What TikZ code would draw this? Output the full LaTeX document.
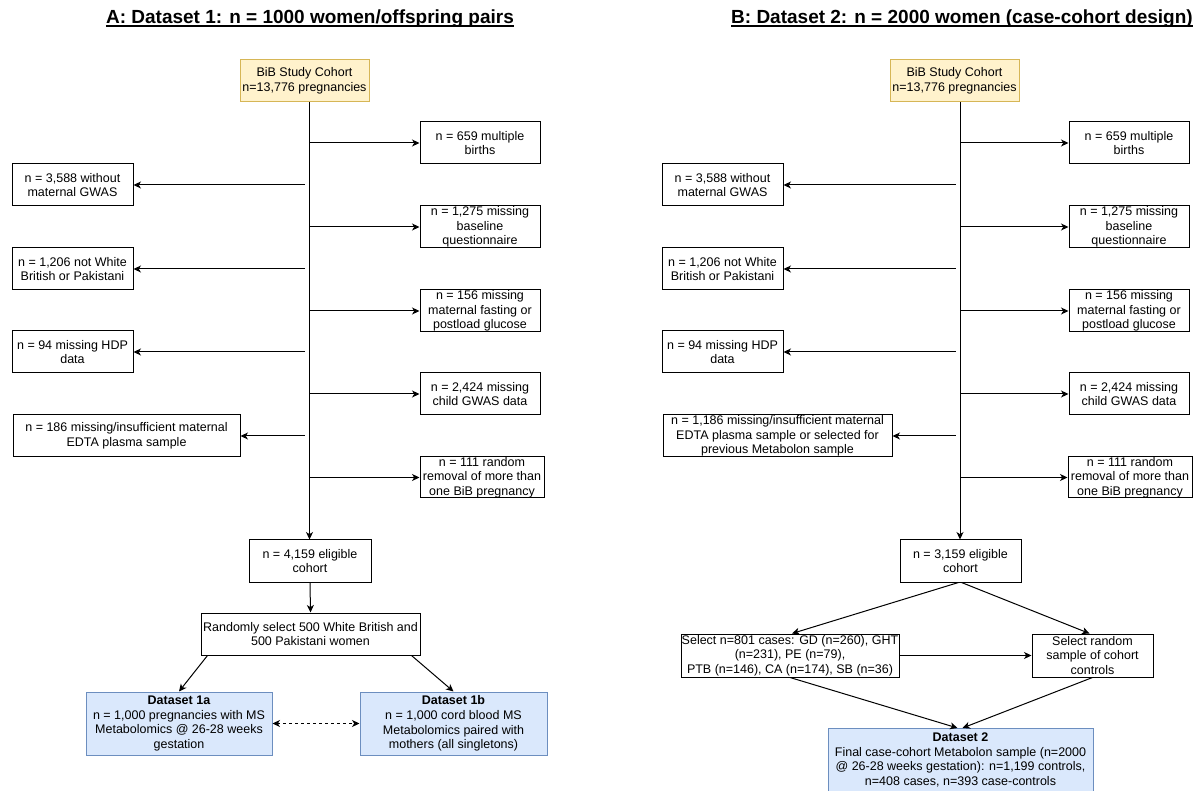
\documentclass[tikz,border=0pt]{standalone}
\usepackage{fontspec}
\setmainfont{Liberation Sans}
\usetikzlibrary{arrows.meta}
\definecolor{yfill}{HTML}{FFF2CC}
\definecolor{ydraw}{HTML}{D6B656}
\definecolor{bfill}{HTML}{DAE8FC}
\definecolor{bdraw}{HTML}{6C8EBF}
\tikzset{
  fbox/.style={draw=black, fill=white, line width=1pt, align=center, inner sep=0pt,
    font=\fontsize{12.5}{14.6}\selectfont},
  ybox/.style={fbox, draw=ydraw, fill=yfill},
  bbox/.style={fbox, draw=bdraw, fill=bfill},
  arr/.style={line width=1pt, -{Stealth[length=7.5pt,width=7pt,inset=2.2pt]}},
  darr/.style={line width=1pt, dash pattern=on 3pt off 3pt,
    {Stealth[length=7.5pt,width=7pt,inset=2.2pt]}-{Stealth[length=7.5pt,width=7pt,inset=2.2pt]}},
  ttl/.style={inner sep=0pt, anchor=base, font=\fontsize{19}{22}\selectfont\bfseries},
}
\begin{document}
\begin{tikzpicture}[x=1pt,y=-1pt]
\useasboundingbox (0,0) rectangle (1195,791);
\clip (0,0) rectangle (1195,791);
% ---------- titles ----------
\node[ttl] (tA) at (310,24) {A: Dataset 1: n = 1000 women/offspring pairs};
\draw[line width=1.4pt] ([yshift=-2.2pt]tA.base west) -- ([yshift=-2.2pt]tA.base east);
\node[ttl] (tB) at (962,24) {B: Dataset 2: n = 2000 women (case-cohort design)};
\draw[line width=1.4pt] ([yshift=-2.2pt]tB.base west) -- ([yshift=-2.2pt]tB.base east);

% ---------- panel A ----------
\coordinate (lA) at (309.5,0);
\node[ybox, minimum width=129, minimum height=42] (bibA) at (304.5,81) {BiB Study Cohort\\n=13,776 pregnancies};
\node[fbox, minimum width=120, minimum height=42] (A1) at (480,143) {n = 659 multiple\\births};
\node[fbox, minimum width=121, minimum height=42] (A2) at (72.5,185) {n = 3,588 without\\maternal GWAS};
\node[fbox, minimum width=120, minimum height=42] (A3) at (480,227) {n = 1,275 missing\\baseline\\questionnaire};
\node[fbox, minimum width=121, minimum height=42] (A4) at (72.5,269) {n = 1,206 not White\\British or Pakistani};
\node[fbox, minimum width=120, minimum height=42] (A5) at (480,311) {n = 156 missing\\maternal fasting or\\postload glucose};
\node[fbox, minimum width=121, minimum height=42] (A6) at (72.5,352) {n = 94 missing HDP\\data};
\node[fbox, minimum width=120, minimum height=42] (A7) at (480,394) {n = 2,424 missing\\child GWAS data};
\node[fbox, minimum width=227, minimum height=42] (A8) at (126.5,436) {n = 186 missing/insufficient maternal\\EDTA plasma sample};
\node[fbox, minimum width=124, minimum height=41] (A9) at (482,477.5) {n = 111 random\\removal of more than\\one BiB pregnancy};
\node[fbox, minimum width=122, minimum height=42] (eligA) at (310,561) {n = 4,159 eligible\\cohort};
\node[fbox, minimum width=219, minimum height=42] (randA) at (310.5,634) {Randomly select 500 White British and\\500 Pakistani women};
\node[bbox, minimum width=186, minimum height=63] (ds1a) at (179,723.5) {\textbf{Dataset 1a}\\n = 1,000 pregnancies with MS\\Metabolomics @ 26-28 weeks\\gestation};
\node[bbox, minimum width=187, minimum height=63] (ds1b) at (453.5,723.5) {\textbf{Dataset 1b}\\n = 1,000 cord blood MS\\Metabolomics paired with\\mothers (all singletons)};

\draw[arr] (bibA.south -| lA) -- (eligA.north -| lA);
\foreach \n in {A1,A3,A5,A7,A9} \draw[arr] (\n.west -| lA) -- (\n.west);
\foreach \n in {A2,A4,A6,A8} \draw[arr] ([xshift=-4.5pt]\n.east -| lA) -- (\n.east);
\draw[arr] (eligA.south) -- (randA.north);
\draw[arr] ([xshift=7pt]randA.south west) -- (ds1a.north);
\draw[arr] ([xshift=-9pt]randA.south east) -- (ds1b.north);
\draw[darr] (ds1a.east) -- (ds1b.west);

% ---------- panel B ----------
\coordinate (lB) at (960,0);
\node[ybox, minimum width=129, minimum height=42] (bibB) at (954.5,81) {BiB Study Cohort\\n=13,776 pregnancies};
\node[fbox, minimum width=120, minimum height=42] (B1) at (1129,143) {n = 659 multiple\\births};
\node[fbox, minimum width=121, minimum height=42] (B2) at (722.5,185) {n = 3,588 without\\maternal GWAS};
\node[fbox, minimum width=120, minimum height=42] (B3) at (1129,227) {n = 1,275 missing\\baseline\\questionnaire};
\node[fbox, minimum width=121, minimum height=42] (B4) at (722.5,269) {n = 1,206 not White\\British or Pakistani};
\node[fbox, minimum width=120, minimum height=42] (B5) at (1129,311) {n = 156 missing\\maternal fasting or\\postload glucose};
\node[fbox, minimum width=121, minimum height=42] (B6) at (722.5,352) {n = 94 missing HDP\\data};
\node[fbox, minimum width=120, minimum height=42] (B7) at (1129,394) {n = 2,424 missing\\child GWAS data};
\node[fbox, minimum width=229, minimum height=42] (B8) at (777.5,436) {n = 1,186 missing/insufficient maternal\\EDTA plasma sample or selected for\\previous Metabolon sample};
\node[fbox, minimum width=124, minimum height=41] (B9) at (1130,477.5) {n = 111 random\\removal of more than\\one BiB pregnancy};
\node[fbox, minimum width=121, minimum height=42] (eligB) at (960.5,561) {n = 3,159 eligible\\cohort};
\node[fbox, minimum width=218, minimum height=43] (casesB) at (790,655.5) {Select n=801 cases: GD (n=260), GHT\\(n=231), PE (n=79),\\PTB (n=146), CA (n=174), SB (n=36)};
\node[fbox, minimum width=121, minimum height=43] (ctrlB) at (1092.5,655.5) {Select random\\sample of cohort\\controls};
\node[bbox, minimum width=265, anchor=north, inner ysep=4.5pt, text depth=40pt] (ds2) at (960.5,728) {\textbf{Dataset 2}\\Final case-cohort Metabolon sample (n=2000\\@ 26-28 weeks gestation): n=1,199 controls,\\n=408 cases, n=393 case-controls};

\draw[arr] (bibB.south -| lB) -- (eligB.north -| lB);
\foreach \n in {B1,B3,B5,B7,B9} \draw[arr] (\n.west -| lB) -- (\n.west);
\foreach \n in {B2,B4,B6,B8} \draw[arr] ([xshift=-4.5pt]\n.east -| lB) -- (\n.east);
\draw[arr] ([xshift=-2pt]eligB.south) -- ([xshift=2pt]casesB.north);
\draw[arr] ([xshift=1pt]eligB.south) -- ([xshift=-3pt]ctrlB.north);
\draw[arr] (casesB.east) -- (ctrlB.west);
\draw[arr] (casesB.south) -- ([xshift=-3pt]ds2.north);
\draw[arr] (ctrlB.south) -- ([xshift=2pt]ds2.north);
\end{tikzpicture}
\end{document}
